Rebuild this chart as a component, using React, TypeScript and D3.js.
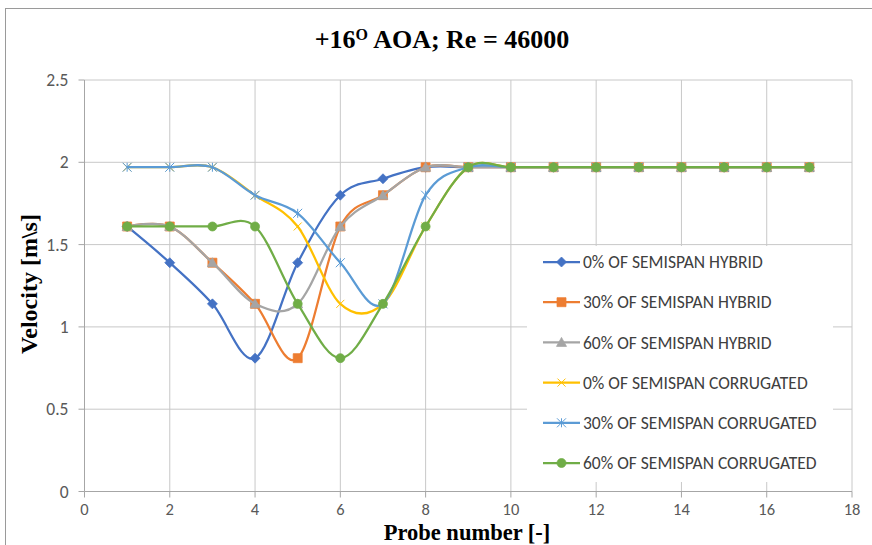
import React from 'react';
import * as d3 from 'd3';

// probe positions along the chord
const probes = [1, 2, 3, 4, 5, 6, 7, 8, 9, 10, 11, 12, 13, 14, 15, 16, 17];

// velocities [m/s]
const hybrid0 = [1.61, 1.39, 1.14, 0.81, 1.39, 1.8, 1.9, 1.97, 1.97, 1.97, 1.97, 1.97, 1.97, 1.97, 1.97, 1.97, 1.97];
const hybrid30 = [1.61, 1.61, 1.39, 1.14, 0.81, 1.61, 1.8, 1.97, 1.97, 1.97, 1.97, 1.97, 1.97, 1.97, 1.97, 1.97, 1.97];
const hybrid60 = [1.61, 1.61, 1.39, 1.14, 1.14, 1.61, 1.8, 1.97, 1.97, 1.97, 1.97, 1.97, 1.97, 1.97, 1.97, 1.97, 1.97];
const corr0 = [1.97, 1.97, 1.97, 1.8, 1.61, 1.14, 1.14, 1.61, 1.97, 1.97, 1.97, 1.97, 1.97, 1.97, 1.97, 1.97, 1.97];
const corr30 = [1.97, 1.97, 1.97, 1.8, 1.69, 1.39, 1.14, 1.8, 1.97, 1.97, 1.97, 1.97, 1.97, 1.97, 1.97, 1.97, 1.97];
const corr60 = [1.61, 1.61, 1.61, 1.61, 1.14, 0.81, 1.14, 1.61, 1.97, 1.97, 1.97, 1.97, 1.97, 1.97, 1.97, 1.97, 1.97];

const seriesNames = [
  '0% OF SEMISPAN HYBRID',
  '30% OF SEMISPAN HYBRID',
  '60% OF SEMISPAN HYBRID',
  '0% OF SEMISPAN CORRUGATED',
  '30% OF SEMISPAN CORRUGATED',
  '60% OF SEMISPAN CORRUGATED',
];
const seriesValues = [hybrid0, hybrid30, hybrid60, corr0, corr30, corr60];
const seriesColors = ['#4472C4', '#ED7D31', '#A5A5A5', '#FFC000', '#5B9BD5', '#70AD47'];
const seriesMarkers = ['diamond', 'square', 'triangle', 'x', 'star', 'circle'];

const xTicks = [0, 2, 4, 6, 8, 10, 12, 14, 16, 18];
const yTicks = [0, 0.5, 1, 1.5, 2, 2.5];

const W = 872;
const H = 545;

const x = d3.scaleLinear().domain([0, 18]).range([84.5, 852]);
const y = d3.scaleLinear().domain([0, 2.5]).range([491.5, 80]);

const markerPath = (kind: string, cx: number, cy: number) => {
  const p = d3.path();
  if (kind === 'diamond') {
    const r = 5;
    p.moveTo(cx, cy - r); p.lineTo(cx + r, cy); p.lineTo(cx, cy + r); p.lineTo(cx - r, cy); p.closePath();
  } else if (kind === 'square') {
    const r = 4.5;
    p.rect(cx - r, cy - r, 2 * r, 2 * r);
  } else if (kind === 'triangle') {
    const r = 5;
    p.moveTo(cx, cy - r); p.lineTo(cx + r, cy + r * 0.8); p.lineTo(cx - r, cy + r * 0.8); p.closePath();
  } else if (kind === 'x') {
    const r = 4;
    p.moveTo(cx - r, cy - r); p.lineTo(cx + r, cy + r); p.moveTo(cx - r, cy + r); p.lineTo(cx + r, cy - r);
  } else if (kind === 'star') {
    const r = 4.5;
    p.moveTo(cx - r, cy - r); p.lineTo(cx + r, cy + r); p.moveTo(cx - r, cy + r); p.lineTo(cx + r, cy - r);
    p.moveTo(cx, cy - r); p.lineTo(cx, cy + r);
  } else {
    p.arc(cx, cy, 4.5, 0, Math.PI * 2);
  }
  return p.toString();
};

const Marker = ({ kind, cx, cy, color }: { kind: string; cx: number; cy: number; color: string }) => {
  const stroked = kind === 'x' || kind === 'star';
  return (
    <path
      d={markerPath(kind, cx, cy)}
      fill={stroked ? 'none' : color}
      stroke={color}
      strokeWidth={stroked ? 1 : 0.75}
    />
  );
};

const line = d3
  .line<number>()
  .x((_, i) => x(probes[i]))
  .y(d => y(d))
  .curve(d3.curveCardinal.tension(0));

const grid = '#c8c8c8';
const axisCol = '#a6a6a6';
const labelFont = "Carlito, Calibri, 'Liberation Sans', Arial, sans-serif";
const serif = "'Liberation Serif', 'Times New Roman', serif";

const App = () => {
  const legendX = 527;
  const legendY = 246;
  const legendStep = 40.2;

  return (
    <div style={{ position: 'absolute', left: 0, top: 0 }}>
      <svg width={W} height={H} style={{ display: 'block', background: '#fff' }}>
        <rect x={5.5} y={8.5} width={900} height={600} fill="#fff" stroke="#9a9a9a" strokeWidth={1} />

        {/* title */}
        <text x={442} y={48} textAnchor="middle" fontFamily={serif} fontWeight="bold" fontSize={26} fill="#000">
          +16<tspan fontSize={16} dy={-8}>O</tspan>
          <tspan dy={8}> AOA; Re = 46000</tspan>
        </text>

        {/* gridlines */}
        {yTicks.filter(t => t > 0).map(t => (
          <line key={'gy' + t} x1={x(0)} x2={x(18)} y1={y(t)} y2={y(t)} stroke={grid} strokeWidth={1} />
        ))}
        {xTicks.filter(t => t > 0).map(t => (
          <line key={'gx' + t} x1={x(t)} x2={x(t)} y1={y(2.5)} y2={y(0)} stroke={grid} strokeWidth={1} />
        ))}

        {/* axes */}
        <line x1={x(0)} x2={x(0)} y1={y(2.5)} y2={y(0)} stroke={axisCol} />
        <line x1={x(0)} x2={x(18)} y1={y(0)} y2={y(0)} stroke={axisCol} />
        {yTicks.map(t => (
          <g key={'ty' + t}>
            <line x1={x(0) - 6} x2={x(0)} y1={y(t)} y2={y(t)} stroke={axisCol} />
            <text x={x(0) - 16} y={y(t)} dy="0.35em" textAnchor="end" fontFamily={labelFont} fontSize={17.5} fill="#595959">
              {t}
            </text>
          </g>
        ))}
        {xTicks.map(t => (
          <g key={'tx' + t}>
            <line x1={x(t)} x2={x(t)} y1={y(0)} y2={y(0) + 6} stroke={axisCol} />
            <text x={x(t)} y={y(0) + 23} textAnchor="middle" fontFamily={labelFont} fontSize={16.5} fill="#595959">
              {t}
            </text>
          </g>
        ))}

        {/* axis titles */}
        <text
          transform={`translate(37, 284) rotate(-90)`}
          textAnchor="middle"
          fontFamily={serif}
          fontWeight="bold"
          fontSize={24}
          fill="#000"
        >
          Velocity [m\s]
        </text>
        <text x={467} y={539.5} textAnchor="middle" fontFamily={serif} fontWeight="bold" fontSize={22.5} fill="#000">
          Probe number [-]
        </text>

        {/* series */}
        {seriesValues.map((vals, si) => (
          <g key={'s' + si}>
            <path d={line(vals) || ''} fill="none" stroke={seriesColors[si]} strokeWidth={2.25} strokeLinejoin="round" />
            {vals.map((v, i) => (
              <Marker key={i} kind={seriesMarkers[si]} cx={x(probes[i])} cy={y(v)} color={seriesColors[si]} />
            ))}
          </g>
        ))}

        {/* legend */}
        <rect x={legendX} y={legendY} width={306} height={236} fill="#fff" />
        {seriesNames.map((name, i) => {
          const cy = legendY + 16 + i * legendStep;
          return (
            <g key={'l' + i}>
              <line x1={543} x2={580} y1={cy} y2={cy} stroke={seriesColors[i]} strokeWidth={2.25} />
              <Marker kind={seriesMarkers[i]} cx={561.5} cy={cy} color={seriesColors[i]} />
              <text x={583} y={cy} dy="0.35em" fontFamily={labelFont} fontSize={17.5} fill="#404040">
                {name}
              </text>
            </g>
          );
        })}
      </svg>
    </div>
  );
};

export default App;
